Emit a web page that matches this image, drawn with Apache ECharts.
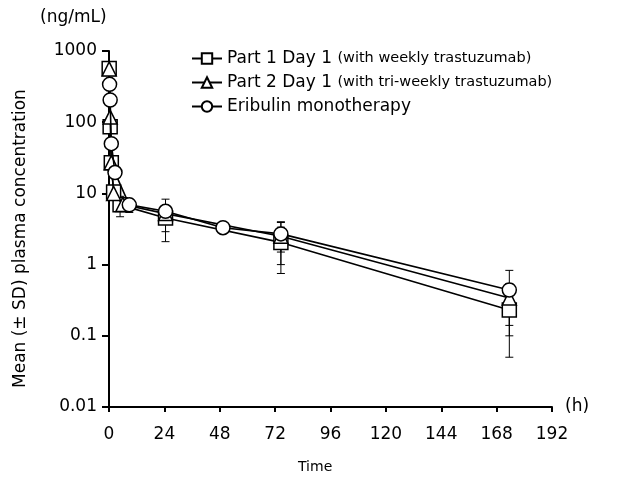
<!DOCTYPE html>
<html>
<head>
<meta charset="utf-8">
<script src="https://cdn.jsdelivr.net/npm/echarts@6/dist/echarts.min.js"></script>
<style>
html,body{margin:0;padding:0;background:#fff;}
#c{width:619px;height:478px;}
</style>
</head>
<body>
<div id="c"></div>
<script>
// ---- data ----
const xTicks = [0, 24, 48, 72, 96, 120, 144, 168, 192];
const yTicks = [0.01, 0.1, 1, 10, 100, 1000];

const seriesNames = [
  "Part 1 Day 1 (with weekly trastuzumab)",
  "Part 2 Day 1 (with tri-weekly trastuzumab)",
  "Eribulin monotherapy"
];

const timesP1  = [0.08, 0.5, 1, 2, 4.8, 24.5, 74.5, 173.5];
const valuesP1 = [570, 86, 27, 10.5, 6.9, 4.5, 2.05, 0.23];
const sdP1     = [null, null, null, null, 2.2, 1.6, 1.3, 0.13];

const timesP2  = [0.08, 0.5, 1, 2, 6, 24.5, 74.5, 173.5];
const valuesP2 = [560, 118, 27, 10, 7, 5.2, 2.5, 0.34];
const sdP2     = [null, null, null, null, null, 3.1, 1.5, 0.2];

const timesMono  = [0.25, 0.5, 1, 2.6, 8.8, 24.5, 49.4, 74.5, 173.5];
const valuesMono = [340, 205, 50, 19.6, 6.9, 5.6, 3.3, 2.7, 0.44];
const sdMono     = [null, null, null, null, 1.5, null, null, 1.2, 0.39];

// ---- build ----
function pts(t, v){ return t.map((x,i)=>[x, v[i]]); }
function errs(t, v, s){
  const out = [];
  t.forEach((x,i)=>{ if(s[i]!=null){ out.push([x, Math.max(v[i]-s[i], 0.011), v[i]+s[i]]); } });
  return out;
}
const chart = echarts.init(document.getElementById('c'), null, {renderer:'canvas'});
const FONT = 'DejaVu Sans';
const markerStyle = {color:'#fff', borderColor:'#000', borderWidth:1.5};
const lineStyle = {color:'#000', width:1.6};

function errSeries(data){
  return {
    type:'custom', z:1, silent:true,
    data:data,
    encode:{x:0, y:[1,2]},
    renderItem:function(params, api){
      const x = api.value(0);
      const lo = api.coord([x, api.value(1)]);
      const hi = api.coord([x, api.value(2)]);
      const cw = 4;
      return {type:'group', children:[
        {type:'line', shape:{x1:lo[0], y1:lo[1], x2:hi[0], y2:hi[1]}, style:{stroke:'#000', lineWidth:1}},
        {type:'line', shape:{x1:lo[0]-cw, y1:lo[1], x2:lo[0]+cw, y2:lo[1]}, style:{stroke:'#000', lineWidth:1}},
        {type:'line', shape:{x1:hi[0]-cw, y1:hi[1], x2:hi[0]+cw, y2:hi[1]}, style:{stroke:'#000', lineWidth:1}}
      ]};
    }
  };
}

const option = {
  animation:false,
  backgroundColor:'#fff',
  textStyle:{fontFamily:FONT, color:'#000'},
  grid:{left:109, right:67, top:51, bottom:71, containLabel:false},
  legend:{
    orient:'vertical', left:186, top:45, itemGap:7,
    itemWidth:30, itemHeight:13,
    data:seriesNames,
    textStyle:{fontFamily:FONT, color:'#000', fontSize:17,
      rich:{a:{fontFamily:FONT, fontSize:17, color:'#000'}, b:{fontFamily:FONT, fontSize:14.5, color:'#000'}}},
    formatter:function(name){
      const k = name.indexOf(' (');
      if(k<0) return '{a|'+name+'}';
      return '{a|'+name.slice(0,k)+'} {b|'+name.slice(k+1)+'}';
    }
  },
  xAxis:{
    type:'value', min:0, max:192, interval:24,
    axisLine:{show:true, onZero:false, lineStyle:{color:'#000', width:2}},
    axisTick:{show:true, inside:false, length:5, lineStyle:{color:'#000', width:2}},
    axisLabel:{margin:19, fontFamily:FONT, fontSize:17, color:'#000',
      formatter:function(v){ return xTicks.indexOf(v)>=0 ? String(v) : ''; }},
    splitLine:{show:false}
  },
  yAxis:{
    type:'log', logBase:10, min:0.01, max:1000,
    axisLine:{show:true, lineStyle:{color:'#000', width:2}},
    axisTick:{show:true, length:7, lineStyle:{color:'#000', width:2}},
    minorTick:{show:false},
    axisLabel:{margin:12, fontFamily:FONT, fontSize:17, color:'#000',
      formatter:function(v){
        for(const t of yTicks){ if(Math.abs(Math.log10(v)-Math.log10(t))<1e-6) return String(t); }
        return '';
      }},
    splitLine:{show:false}
  },
  graphic:[
    {type:'text', left:40, top:9, style:{text:'(ng/mL)', font:'17px "DejaVu Sans"', fill:'#000'}},
    {type:'text', x:565, y:398, style:{text:'(h)', font:'17px "DejaVu Sans"', fill:'#000'}},
    {type:'text', x:298, y:460, style:{text:'Time', font:'14px "DejaVu Sans"', fill:'#000'}},
    {type:'text', x:12, y:388, rotation:Math.PI/2,
      style:{text:'Mean (± SD) plasma concentration', font:'17px "DejaVu Sans"', fill:'#000'}}
  ],
  series:[
    errSeries(errs(timesP1, valuesP1, sdP1)),
    errSeries(errs(timesP2, valuesP2, sdP2)),
    errSeries(errs(timesMono, valuesMono, sdMono)),
    {name:seriesNames[0], type:'line', z:2, data:pts(timesP1, valuesP1),
      symbol:'rect', symbolSize:14, itemStyle:markerStyle, lineStyle:lineStyle},
    {name:seriesNames[1], type:'line', z:3, data:pts(timesP2, valuesP2),
      symbol:'triangle', symbolSize:14, itemStyle:markerStyle, lineStyle:lineStyle},
    {name:seriesNames[2], type:'line', z:4, data:pts(timesMono, valuesMono),
      symbol:'circle', symbolSize:14, itemStyle:markerStyle, lineStyle:lineStyle}
  ]
};
chart.setOption(option);
</script>
</body>
</html>
